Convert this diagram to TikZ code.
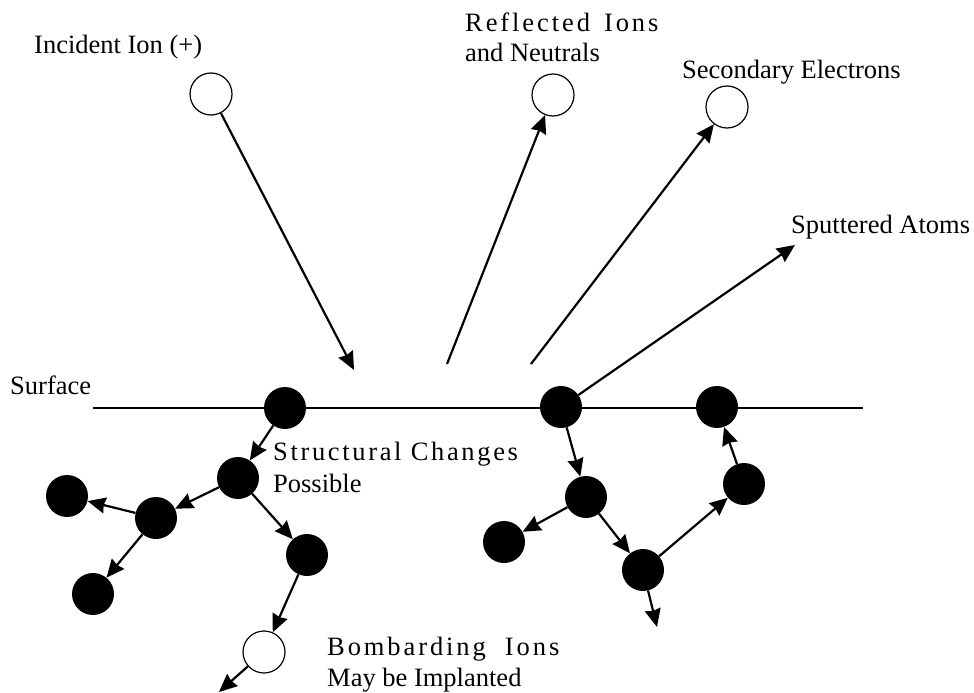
\documentclass[tikz,border=0pt]{standalone}
\usepackage{fontspec}
\setmainfont{Liberation Serif}
\usetikzlibrary{arrows.meta}
\tikzset{
  atom/.style={circle, fill=black, minimum size=42pt, inner sep=0pt},
  ion/.style={circle, draw, line width=1.2pt, minimum size=42pt, inner sep=0pt},
  hit/.style={line width=2.2pt, -{Stealth[length=18pt,width=16pt,inset=1.5pt]}},
  lbl/.style={anchor=base west, inner sep=0pt},
}
\newcommand{\spaced}[2]{{\addfontfeature{LetterSpace=#1}#2}}
\begin{document}
\begin{tikzpicture}[x=1pt, y=-1pt, font=\fontsize{26.5}{30}\selectfont]
\useasboundingbox (0,0) rectangle (974,693);
% surface
\coordinate (surfL) at (93,408);
\coordinate (surfR) at (863,408);
\draw[line width=2pt] (surfL) -- (surfR);
% ions above the surface
\node[ion] (ionIn)   at (211,94)  {};
\node[ion] (ionRefl) at (553,95)  {};
\node[ion] (elec)    at (727,107) {};
\node[ion] (ionImp)  at (264,652) {};
% atoms, left cascade
\node[atom] (s1) at (285,408) {};
\node[atom] (a1) at (238,478) {};
\node[atom] (a2) at (156,518) {};
\node[atom] (a3) at (67,496)  {};
\node[atom] (a4) at (93,594)  {};
\node[atom] (a5) at (307,555) {};
% atoms, right cascade
\node[atom] (s2) at (561,407) {};
\node[atom] (s3) at (717,407) {};
\node[atom] (b1) at (586,497) {};
\node[atom] (b2) at (504,542) {};
\node[atom] (b3) at (643,570) {};
\node[atom] (b4) at (744,484) {};
% free ends
\coordinate (hitIn)   at (354,370);
\coordinate (outRefl) at (447,364);
\coordinate (outElec) at (531,364);
\coordinate (outSput) at (795,245);
\coordinate (endImp)  at (219,692);
\coordinate (endB3)   at (657,627);
% labels
\node[lbl] (tIn)   at (34,54)   {Incident Ion (+)};
\node[lbl] (tRef)  at (465,32)  {\spaced{11}{Reflected\hspace{14pt}Ions}};
\node[lbl] (tRef2) at (465,62)  {and Neutrals};
\node[lbl] (tSec)  at (682,78)  {Secondary Electrons};
\node[lbl] (tSput) at (791,233) {Sputtered Atoms};
\node[lbl] (tSurf) at (10,394)  {Surface};
\node[lbl] (tStr)  at (273,460) {\spaced{10}{Structural\ Changes}};
\node[lbl] (tStr2) at (273,492) {Possible};
\node[lbl] (tBom)  at (327,655) {\spaced{11}{Bombarding\ \ Ions}};
\node[lbl] (tBom2) at (327,686) {May be Implanted};
% paths
\draw[hit] (ionIn) -- (hitIn);
\draw[hit] (outRefl) -- (ionRefl);
\draw[hit] (outElec) -- (elec);
\draw[hit] (s2) -- (outSput);
\draw[hit] (s1) -- (a1);
\draw[hit] (a1) -- (a2);
\draw[hit] (a2) -- (a3);
\draw[hit] (a2) -- (a4);
\draw[hit] (a1) -- (a5);
\draw[hit] (a5) -- (ionImp);
\draw[hit] (ionImp) -- (endImp);
\draw[hit] (s2) -- (b1);
\draw[hit] (b1) -- (b2);
\draw[hit] (b1) -- (b3);
\draw[hit] (b3) -- (b4);
\draw[hit] (b4) -- (s3);
\draw[hit] (b3) -- (endB3);
\end{tikzpicture}
\end{document}
